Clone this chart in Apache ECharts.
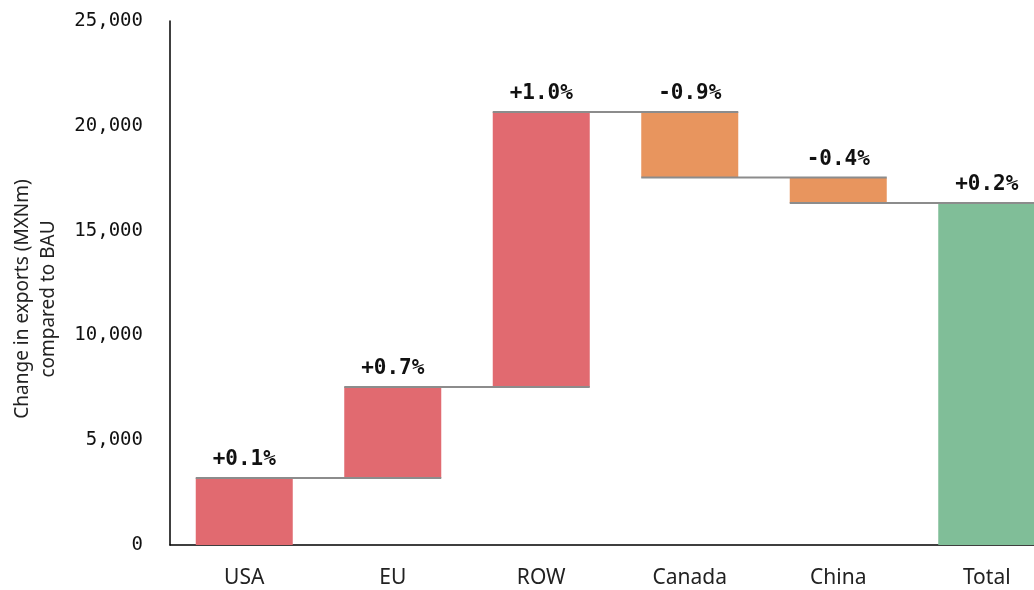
<!DOCTYPE html>
<html>
<head>
<meta charset="utf-8">
<script src="https://cdn.jsdelivr.net/npm/echarts@6/dist/echarts.min.js"></script>
<style>
  html, body { margin: 0; padding: 0; background: #fff; }
  #main { width: 1034px; height: 590px; }
</style>
</head>
<body>
<div id="main"></div>
<script>
// categories and the change each one adds (MXNm)
const categories = ['USA', 'EU', 'ROW', 'Canada', 'China', 'Total'];
const changes = [3200, 4340, 13120, -3130, -1210];
const pctLabels = ['+0.1%', '+0.7%', '+1.0%', '-0.9%', '-0.4%', '+0.2%'];
const yTicks = [0, 5000, 10000, 15000, 20000, 25000];

const RED = '#E16A70', ORANGE = '#E8955E', GREEN = '#80BE98';

// build waterfall pieces
let running = 0;
const base = [], visible = [], levels = [];
changes.forEach((d, i) => {
  const next = running + d;
  base.push(Math.min(running, next));
  visible.push({ value: Math.abs(d), itemStyle: { color: d >= 0 ? RED : ORANGE } });
  levels.push([i, next]);
  running = next;
});
base.push(0);
visible.push({ value: running, itemStyle: { color: GREEN } });

const BAR_W = 97;

let myChart = echarts.init(document.getElementById('main'));
myChart.setOption({
  animation: false,
  grid: { left: 170, top: 21, bottom: 45, width: 891, containLabel: false, outerBoundsMode: 'none' },
  xAxis: {
    type: 'category',
    data: categories,
    axisTick: { show: false },
    axisLine: { lineStyle: { color: '#000', width: 1.5 } },
    axisLabel: { margin: 23, fontSize: 21, color: '#222', fontFamily: 'Noto Sans' }
  },
  yAxis: {
    type: 'value',
    min: 0,
    max: 25000,
    interval: 5000,
    splitLine: { show: false },
    axisTick: { show: false },
    axisLine: { show: true, lineStyle: { color: '#000', width: 1.5 } },
    axisLabel: {
      margin: 27,
      fontSize: 19,
      color: '#111',
      fontFamily: 'DejaVu Sans Mono',
      formatter: v => yTicks.includes(v) ? v.toLocaleString('en-US') : ''
    },
    name: 'Change in exports (MXNm)\ncompared to BAU',
    nameLocation: 'middle',
    nameGap: 108,
    nameTextStyle: { fontSize: 19, color: '#222', fontFamily: 'Noto Sans', lineHeight: 26, padding: [0, 32, 0, 0] }
  },
  series: [
    {
      type: 'bar',
      stack: 'w',
      barWidth: BAR_W,
      itemStyle: { color: 'transparent' },
      data: base
    },
    {
      type: 'bar',
      stack: 'w',
      barWidth: BAR_W,
      data: visible,
      label: {
        show: true,
        position: 'top',
        distance: 8,
        fontSize: 21,
        fontWeight: 'bold',
        color: '#111',
        fontFamily: 'DejaVu Sans Mono',
        formatter: p => pctLabels[p.dataIndex]
      }
    },
    {
      type: 'custom',
      z: 5,
      data: levels,
      renderItem: function (params, api) {
        const i = api.value(0), lvl = api.value(1);
        const a = api.coord([i, lvl]);
        const b = api.coord([i + 1, lvl]);
        return {
          type: 'line',
          shape: { x1: a[0] - BAR_W / 2, y1: a[1], x2: b[0] + BAR_W / 2, y2: b[1] },
          style: { stroke: '#8c8c8c', lineWidth: 2 }
        };
      }
    }
  ]
});
</script>
</body>
</html>
